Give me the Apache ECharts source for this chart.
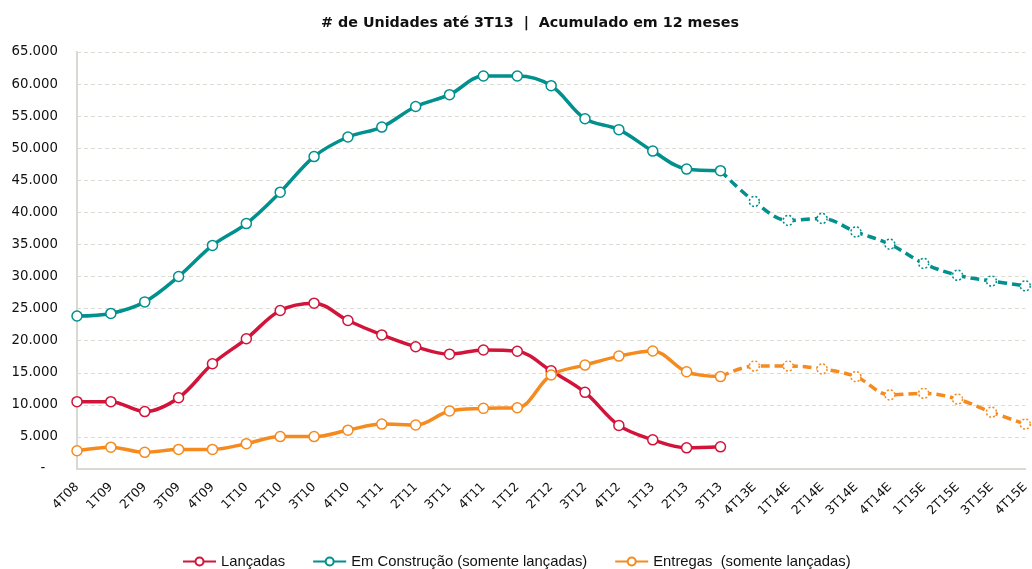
<!DOCTYPE html>
<html>
<head>
<meta charset="utf-8">
<script src="https://cdn.jsdelivr.net/npm/echarts@6/dist/echarts.min.js"></script>
<style>
  html, body { margin: 0; padding: 0; background: #fff; }
  #chart { width: 1032px; height: 569px; }
</style>
</head>
<body>
<div id="chart"></div>
<script>
// categorias (trimestres), as ultimas com E sao projecoes
var categorias = ['4T08', '1T09', '2T09', '3T09', '4T09', '1T10', '2T10', '3T10', '4T10',
  '1T11', '2T11', '3T11', '4T11', '1T12', '2T12', '3T12', '4T12', '1T13', '2T13', '3T13',
  '4T13E', '1T14E', '2T14E', '3T14E', '4T14E', '1T15E', '2T15E', '3T15E', '4T15E'];

// realizado ate 3T13
var lancadas = [10500, 10500, 8950, 11100, 16400, 20300, 24700, 25850, 23150, 20900,
  19050, 17900, 18550, 18350, 15300, 11950, 6800, 4550, 3300, 3450];
var emConstrucao = [23850, 24250, 26050, 30000, 34850, 38250, 43150, 48700, 51750, 53300,
  56500, 58350, 61250, 61250, 59750, 54600, 52900, 49550, 46750, 46500];
var entregas = [2850, 3400, 2600, 3050, 3050, 3950, 5050, 5050, 6050, 7000,
  6850, 9050, 9450, 9550, 14650, 16200, 17600, 18400, 15150, 14400];

// projecao 4T13E .. 4T15E
var emConstrucaoProj = [41700, 38750, 39050, 36950, 35050, 32050, 30200, 29300, 28550];
var entregasProj = [16050, 16050, 15600, 14400, 11550, 11800, 10900, 8850, 7000];

var cores = { lanc: '#D2143A', constr: '#00908D', entr: '#F58A1F' };

// monta serie projetada: vazio ate 3T13, ponto de ligacao sem marcador, depois projecao
function projetada(realizado, proj) {
  var arr = [];
  for (var i = 0; i < realizado.length - 1; i++) arr.push('-');
  arr.push({ value: realizado[realizado.length - 1], symbol: 'none' });
  return arr.concat(proj);
}

var fmt = function (v) {
  if (v === 0) return '-   ';
  return String(v).replace(/\B(?=(\d{3})+(?!\d))/g, '.');
};

var myChart = echarts.init(document.getElementById('chart'));
var option = {
  animation: false,
  backgroundColor: '#fff',
  title: {
    text: '# de Unidades até 3T13  |  Acumulado em 12 meses',
    left: 525,
    textAlign: 'center',
    top: 11,
    textStyle: { fontFamily: 'DejaVu Sans', fontSize: 14.3, fontWeight: 'bold', color: '#111' }
  },
  legend: {
    left: 177,
    top: 549,
    itemWidth: 33,
    itemHeight: 10,
    itemGap: 27,
    textStyle: { fontFamily: 'Liberation Sans', fontSize: 14.8, color: '#111' },
    data: ['Lançadas', 'Em Construção (somente lançadas)', 'Entregas  (somente lançadas)']
  },
  grid: { left: 77, right: 4, top: 52, bottom: 100 },
  xAxis: {
    type: 'category',
    data: categorias,
    boundaryGap: false,
    axisLine: { lineStyle: { color: '#D9D9D1', width: 2 } },
    axisTick: { show: false },
    axisLabel: {
      rotate: 45, margin: 16, interval: 0,
      fontFamily: 'DejaVu Sans', fontSize: 12.5, color: '#111'
    }
  },
  yAxis: {
    type: 'value',
    min: 0, max: 65000, interval: 5000,
    axisLine: { show: true, lineStyle: { color: '#D9D9D1', width: 2 } },
    axisTick: { show: false },
    splitLine: { lineStyle: { color: '#DCDCD4', type: [4, 3], width: 1 } },
    axisLabel: {
      margin: 19, formatter: fmt,
      fontFamily: 'DejaVu Sans', fontSize: 13.3, color: '#111'
    }
  },
  series: [
    {
      name: 'proj construcao', type: 'line', smooth: 0.35,
      data: projetada(emConstrucao, emConstrucaoProj),
      symbol: 'circle', symbolSize: 10,
      lineStyle: { color: cores.constr, width: 3.5, type: [9, 5] },
      itemStyle: { color: '#fff', borderColor: cores.constr, borderWidth: 1.5, borderType: [2, 2] }
    },
    {
      name: 'proj entregas', type: 'line', smooth: 0.35,
      data: projetada(entregas, entregasProj),
      symbol: 'circle', symbolSize: 10,
      lineStyle: { color: cores.entr, width: 3.5, type: [9, 5] },
      itemStyle: { color: '#fff', borderColor: cores.entr, borderWidth: 1.5, borderType: [2, 2] }
    },
    {
      name: 'Lançadas', type: 'line', smooth: 0.35,
      data: lancadas,
      symbol: 'circle', symbolSize: 10,
      lineStyle: { color: cores.lanc, width: 3.5 },
      itemStyle: { color: '#fff', borderColor: cores.lanc, borderWidth: 1.5 }
    },
    {
      name: 'Em Construção (somente lançadas)', type: 'line', smooth: 0.35,
      data: emConstrucao,
      symbol: 'circle', symbolSize: 10,
      lineStyle: { color: cores.constr, width: 3.5 },
      itemStyle: { color: '#fff', borderColor: cores.constr, borderWidth: 1.5 }
    },
    {
      name: 'Entregas  (somente lançadas)', type: 'line', smooth: 0.35,
      data: entregas,
      symbol: 'circle', symbolSize: 10,
      lineStyle: { color: cores.entr, width: 3.5 },
      itemStyle: { color: '#fff', borderColor: cores.entr, borderWidth: 1.5 }
    }
  ]
};
myChart.setOption(option);
</script>
</body>
</html>
